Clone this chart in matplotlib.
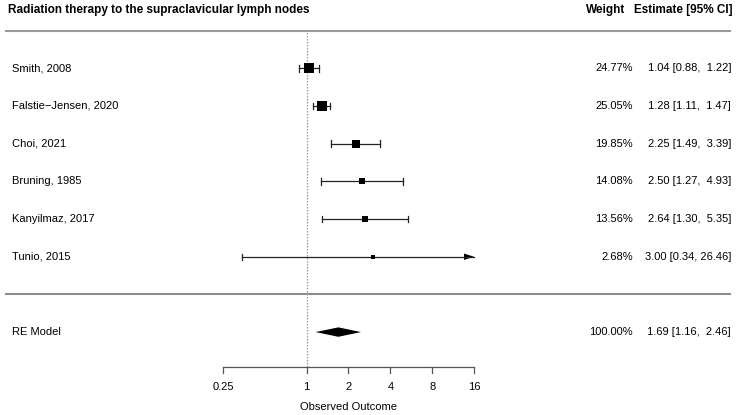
import numpy as np
import matplotlib
matplotlib.use("Agg")
import matplotlib.pyplot as plt
from matplotlib.patches import Polygon

plt.rcParams['font.family'] = ['Liberation Sans', 'DejaVu Sans']

title = "Radiation therapy to the supraclavicular lymph nodes"
studies = ["Smith, 2008", "Falstie\u2212Jensen, 2020", "Choi, 2021", "Bruning, 1985",
           "Kanyilmaz, 2017", "Tunio, 2015"]
estimates = [1.04, 1.28, 2.25, 2.50, 2.64, 3.00]
ci_low = [0.88, 1.11, 1.49, 1.27, 1.30, 0.34]
ci_high = [1.22, 1.47, 3.39, 4.93, 5.35, 26.46]
weights = [24.77, 25.05, 19.85, 14.08, 13.56, 2.68]
re_est, re_low, re_high = 1.69, 1.16, 2.46
re_weight = 100.00
xticks = [0.25, 1, 2, 4, 8, 16]
xlabel = "Observed Outcome"

W, H = 740, 415
fig = plt.figure(figsize=(W / 100, H / 100), dpi=100)
ax = fig.add_axes([0, 0, 1, 1])
ax.axis('off')

# pixel mapping: log2 scale ~41.83 px per unit, 0.25 at px 223
px_per = 41.83
x0 = -2 - 223 / px_per
x1 = x0 + W / px_per
row_px = 37.68
y_top = 294.4 / row_px
y_bot = -(H - 294.4) / row_px
ax.set_xlim(x0, x1)
ax.set_ylim(y_bot, y_top)

def px2x(p):
    return x0 + p / px_per

k = len(studies)
rows = np.arange(k, 0, -1)
lc = '#222222'
fs = 8.0
alim = (np.log2(xticks[0]), np.log2(xticks[-1]))

# header
ax.text(px2x(8), 7.55, title, fontsize=8.5, fontweight='bold', ha='left', va='center')
ax.text(px2x(625), 7.55, "Weight", fontsize=8.5, fontweight='bold', ha='right', va='center')
ax.text(px2x(733), 7.55, "Estimate [95% CI]", fontsize=8.5, fontweight='bold', ha='right', va='center')

# top and separator lines
ax.plot([px2x(5), px2x(731)], [k + 1, k + 1], color='#9a9a9a', lw=1.5, solid_capstyle='butt')
ax.plot([px2x(5), px2x(731)], [0, 0], color='#8c8c8c', lw=1.5, solid_capstyle='butt')

# reference line
axis_y = -1.92
ax.plot([0, 0], [axis_y, k + 1], color='#9a9a9a', lw=0.9, ls=(0, (1.2, 1.2)))

wmax = max(weights)
wmin = min(weights)
cap = 0.085
for r, name, e, lo, hi, w in zip(rows, studies, estimates, ci_low, ci_high, weights):
    le, ll, lh = np.log2(e), np.log2(lo), np.log2(hi)
    ax.text(px2x(12), r, name, fontsize=fs, ha='left', va='center')
    ax.text(px2x(633), r, f"{w:.2f}%", fontsize=fs, ha='right', va='center')
    ax.text(px2x(731), r, f"{e:.2f} [{lo:.2f}, {hi:5.2f}]",
            fontsize=fs, ha='right', va='center')
    left = max(ll, alim[0])
    right = min(lh, alim[1])
    ax.plot([left, right], [r, r], color=lc, lw=0.9)
    if ll >= alim[0]:
        ax.plot([ll, ll], [r - cap, r + cap], color=lc, lw=0.9)
    if lh <= alim[1]:
        ax.plot([lh, lh], [r - cap, r + cap], color=lc, lw=0.9)
    else:
        hl = 10 / px_per
        ax.add_patch(Polygon([[alim[1], r], [alim[1] - hl, r + 0.085], [alim[1] - hl, r - 0.085]],
                             closed=True, color='black', lw=0))
    size = 2.8 + 4.2 * (w - wmin) / (wmax - wmin)
    ax.plot([le], [r], marker='s', color='black', ms=size, mec='black', mew=0)

# RE model
ry = -1
ax.text(px2x(12), ry, "RE Model", fontsize=fs, ha='left', va='center')
ax.text(px2x(633), ry, f"{re_weight:.2f}%", fontsize=fs, ha='right', va='center')
ax.text(px2x(731), ry, f"{re_est:.2f} [{re_low:.2f}, {re_high:5.2f}]", fontsize=fs, ha='right', va='center')
dh = 0.125
ax.add_patch(Polygon([[np.log2(re_low), ry], [np.log2(re_est), ry + dh],
                      [np.log2(re_high), ry], [np.log2(re_est), ry - dh]],
                     closed=True, color='black', lw=0))

# axis
tl = 6 / row_px
ax.plot([alim[0], alim[1]], [axis_y, axis_y], color='#555555', lw=0.9)
for t in xticks:
    lt = np.log2(t)
    ax.plot([lt, lt], [axis_y, axis_y - tl], color='#555555', lw=0.9)
    ax.text(lt, axis_y - 20 / row_px, f"{t:g}", fontsize=fs, ha='center', va='center')
ax.text(np.log2(2), axis_y - 40 / row_px, xlabel, fontsize=fs, ha='center', va='center')

fig.savefig("out.png", dpi=100)
